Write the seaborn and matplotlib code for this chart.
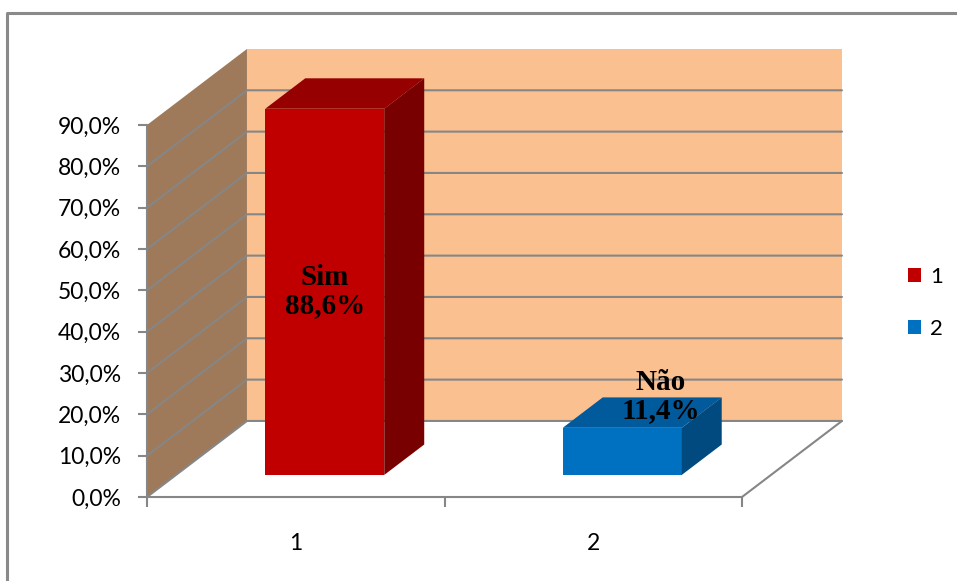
import matplotlib
matplotlib.use("Agg")
import matplotlib.pyplot as plt
import matplotlib.transforms as mtransforms
from matplotlib.patches import Polygon, Rectangle
from matplotlib.lines import Line2D
from matplotlib.ticker import FuncFormatter, FixedLocator
import pandas as pd
import seaborn as sns

# dados do gráfico
categorias = ["1", "2"]
valores = [0.886, 0.114]
rotulos = ["Sim\n88,6%", "Não\n11,4%"]
cores_frente = ["#C00000", "#0070C0"]
cores_topo = ["#960000", "#005A9C"]
cores_lado = ["#780000", "#004A80"]
yticks = [0.0, 0.1, 0.2, 0.3, 0.4, 0.5, 0.6, 0.7, 0.8, 0.9]

sns.set_style("white")
plt.rcParams["font.family"] = ["Lato", "DejaVu Sans"]
plt.rcParams["text.color"] = "black"

# profundidade "3D" em unidades de dados
DX, DY = 0.336, 0.184
D_FRENTE, D_FUNDO = 0.29, 0.69
CINZA = "#868686"

fig = plt.figure(figsize=(9.57, 5.81), dpi=100)
ax = fig.add_axes([147 / 957, 84 / 581, 595 / 957, 372 / 581])
ax.patch.set_visible(False)

df = pd.DataFrame({"cat": categorias, "val": valores})
sns.barplot(data=df, x="cat", y="val", hue="cat", palette=cores_frente, saturation=1,
            width=0.4, legend=True, ax=ax, zorder=4, edgecolor="none")
handles, labels = ax.get_legend_handles_labels()

ax.set_xlim(-0.5, 1.5)
ax.set_ylim(0, 0.9)
x0, x1 = -0.5, 1.5
ytop = yticks[-1]

# paredes e chão
ax.add_patch(Polygon([(x0 + DX, DY), (x1 + DX, DY), (x1 + DX, ytop + DY), (x0 + DX, ytop + DY)],
                     closed=True, fc="#FAC090", ec="none", zorder=0, clip_on=False))
ax.add_patch(Polygon([(x0, 0), (x0 + DX, DY), (x0 + DX, ytop + DY), (x0, ytop)],
                     closed=True, fc="#9E7A5A", ec="none", zorder=0, clip_on=False))
ax.add_patch(Polygon([(x0, 0), (x1, 0), (x1 + DX, DY), (x0 + DX, DY)],
                     closed=True, fc="white", ec="none", zorder=0, clip_on=False))
for y in yticks[:-1]:
    ax.add_line(Line2D([x0, x0 + DX, x1 + DX], [y, y + DY, y + DY], color=CINZA,
                       lw=1.5, zorder=1, clip_on=False))
ax.add_line(Line2D([x1, x1 + DX], [0, DY], color=CINZA, lw=1.5, zorder=1, clip_on=False))

# barras: desloca a face frontal e desenha topo e lateral
fdx, fdy = D_FRENTE * DX, D_FRENTE * DY
bdx, bdy = (D_FUNDO - D_FRENTE) * DX, (D_FUNDO - D_FRENTE) * DY
shift = mtransforms.Affine2D().translate(fdx, fdy) + ax.transData
bars = [p for p in ax.patches if isinstance(p, Rectangle) and p.get_height() > 0][:len(valores)]
for i, p in enumerate(bars):
    p.set_transform(shift)
    p.set_clip_on(False)
    xl, w, h = p.get_x() + fdx, p.get_width(), p.get_height() + fdy
    yb = fdy
    ax.add_patch(Polygon([(xl, h), (xl + w, h), (xl + w + bdx, h + bdy), (xl + bdx, h + bdy)],
                         closed=True, fc=cores_topo[i], ec="none", zorder=4, clip_on=False))
    ax.add_patch(Polygon([(xl + w, yb), (xl + w + bdx, yb + bdy), (xl + w + bdx, h + bdy), (xl + w, h)],
                         closed=True, fc=cores_lado[i], ec="none", zorder=4, clip_on=False))
    if i == 0:
        tx, ty = xl + w / 2, yb + valores[i] / 2
    else:
        tx, ty = xl + w / 2 + 0.13, h + 0.038 + bdy / 2
    ax.text(tx, ty, rotulos[i], ha="center", va="center", fontsize=21, fontweight="bold",
            family="Liberation Serif", color="black", linespacing=1.05, zorder=6)

# eixos
for s in ["top", "right"]:
    ax.spines[s].set_visible(False)
for s in ["left", "bottom"]:
    ax.spines[s].set_color(CINZA)
    ax.spines[s].set_linewidth(1.5)
    ax.spines[s].set_zorder(2)
ax.yaxis.set_major_locator(FixedLocator(yticks))
ax.yaxis.set_major_formatter(FuncFormatter(lambda v, _: f"{v * 100:.1f}%".replace(".", ",")))
ax.xaxis.set_major_locator(FixedLocator([-0.5, 0.5, 1.5]))
ax.xaxis.set_minor_locator(FixedLocator([0, 1]))
ax.set_xticklabels(["", "", ""])
ax.set_xticklabels(categorias, minor=True)
ax.tick_params(axis="y", which="major", left=True, direction="out", length=6.5, width=1.5,
               color=CINZA, pad=12, labelsize=16.5, labelcolor="black")
ax.tick_params(axis="x", which="major", bottom=True, direction="out", length=7, width=1.5,
               color=CINZA)
ax.tick_params(axis="x", which="minor", length=0, pad=26, labelsize=16.5, labelcolor="black")
ax.set_xlabel("")
ax.set_ylabel("")

leg = ax.legend(handles, labels, loc="upper left", bbox_to_anchor=(888 / 957, 1 - 247 / 581),
                bbox_transform=fig.transFigure, frameon=False, fontsize=16,
                handlelength=0.6, handleheight=0.6, handletextpad=0.4, labelspacing=1.45)
for t in leg.get_texts():
    t.set_color("black")

# borda da área do gráfico
fig.add_artist(Line2D([7 / 957, 7 / 957, 1.0], [0.0, 1 - 12.7 / 581, 1 - 12.7 / 581],
                      transform=fig.transFigure, color="#8A8A8A", lw=2.2))

fig.savefig("out.png", dpi=100)
